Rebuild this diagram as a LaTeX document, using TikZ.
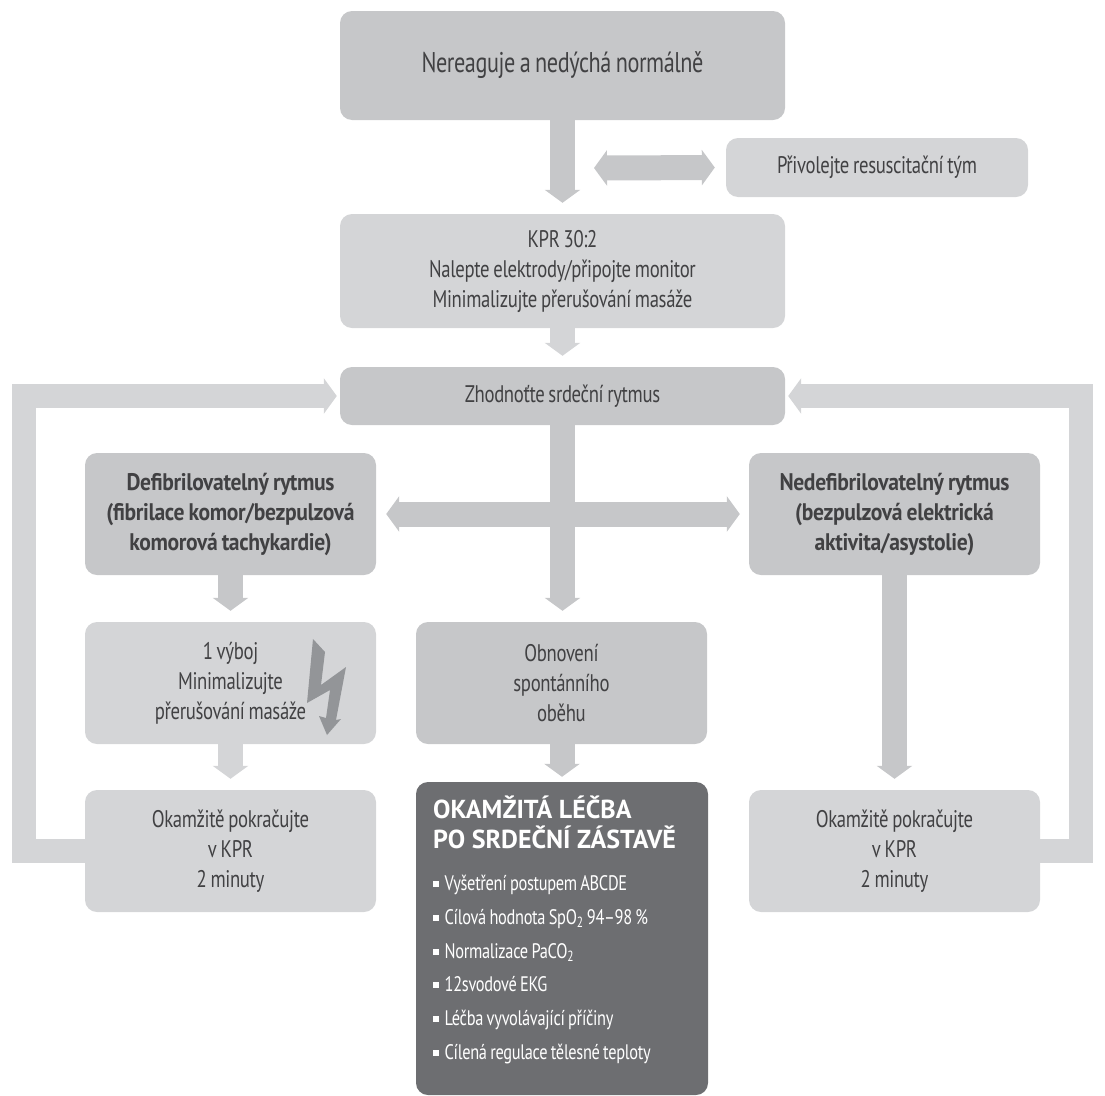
\documentclass[tikz,border=0pt]{standalone}
\usepackage{fontspec}
\setmainfont[FakeStretch=0.78,LetterSpace=-1.5,WordSpace=0.8]{PT Sans}
\newfontfamily\titlefont{PT Sans}
\newfontfamily\heavyfont[FakeStretch=0.9,LetterSpace=-1.5,WordSpace=0.8]{PT Sans}
\usetikzlibrary{arrows.meta}
\definecolor{boxdark}{HTML}{C6C7C9}
\definecolor{boxlight}{HTML}{D4D5D7}
\definecolor{panel}{HTML}{6D6E71}
\definecolor{ink}{HTML}{414143}
\definecolor{bolt}{HTML}{939598}
\tikzset{
  x=1pt,y=-1pt,
  flowbox/.style={rounded corners=12pt,inner sep=0pt,align=center,text=ink,font=\fontsize{24}{30}\selectfont},
  darkbox/.style={flowbox,fill=boxdark},
  lightbox/.style={flowbox,fill=boxlight},
  wide/.style={minimum width=291pt,minimum height=122pt},
  boldtext/.style={font=\heavyfont\bfseries\fontsize{24}{30}\selectfont},
  listitem/.style={anchor=base west,inner sep=0pt,text=white,font=\fontsize{21}{22}\selectfont},
  fatd/.style={line width=25pt,draw=boxdark,line join=miter,-{Triangle[width=35pt,length=13pt]},shorten >=11pt},
  fatl/.style={fatd,draw=boxlight},
  fatboth/.style={line width=25pt,draw=boxdark,{Triangle[width=35pt,length=13pt]}-{Triangle[width=35pt,length=13pt]}},
}
\newcommand{\sqb}{\rule[3.5pt]{5.5pt}{5.5pt}\hspace{6pt}}
\begin{document}
\begin{tikzpicture}
\useasboundingbox (0,0) rectangle (1105,1095);
% boxes
\node[darkbox,minimum width=445pt,minimum height=109pt,font=\fontsize{28.5}{30}\selectfont] (top) at (562.5,65.5) {\raisebox{-2pt}{Nereaguje a nedýchá normálně}};
\node[lightbox,minimum width=302pt,minimum height=59pt] (call) at (877,167.5) {\raisebox{-1.5pt}{Přivolejte resuscitační tým}};
\node[lightbox,minimum width=445pt,minimum height=114pt] (cpr) at (562.5,271) {KPR 30:2\\Nalepte elektrody/připojte monitor\\Minimalizujte přerušování masáže};
\node[darkbox,minimum width=445pt,minimum height=58pt] (rhythm) at (562.5,396) {Zhodnoťte srdeční rytmus};
\node[darkbox,wide,boldtext] (shock) at (230.5,514) {Defibrilovatelný rytmus\\(fibrilace komor/bezpulzová\\komorová tachykardie)};
\node[darkbox,wide,boldtext] (noshock) at (894.5,514) {Nedefibrilovatelný rytmus\\(bezpulzová elektrická\\aktivita/asystolie)};
\node[lightbox,wide] (one) at (230.5,683) {1 výboj\\Minimalizujte\\přerušování masáže};
\node[darkbox,wide] (rosc) at (561.5,683) {Obnovení\\spontánního\\oběhu};
\node[lightbox,wide] (contl) at (230.5,851) {Okamžitě pokračujte\\v KPR\\2 minuty};
\node[lightbox,wide] (contr) at (894.5,851) {Okamžitě pokračujte\\v KPR\\2 minuty};
\node[flowbox,fill=panel,minimum width=292pt,minimum height=313pt] (post) at (562,938.5) {};
% panel text
\node[anchor=base west,inner sep=0pt,text=white,align=left,font=\titlefont\bfseries\fontsize{26}{30}\selectfont] (ptitle) at (433,848) {OKAMŽITÁ LÉČBA\\PO SRDEČNÍ ZÁSTAVĚ};
\node[listitem] (l1) at (433,890) {\sqb Vyšetření postupem ABCDE};
\node[listitem] (l2) at (433,924) {\sqb Cílová hodnota SpO\textsubscript{2} 94–98 \%};
\node[listitem] (l3) at (433,958) {\sqb Normalizace PaCO\textsubscript{2}};
\node[listitem] (l4) at (433,991) {\sqb 12svodové EKG};
\node[listitem] (l5) at (433,1025) {\sqb Léčba vyvolávající příčiny};
\node[listitem] (l6) at (433,1059) {\sqb Cílená regulace tělesné teploty};
% lightning
\fill[bolt] (313,639) -- (325,652) -- (321,685) -- (346,667) -- (336,720) -- (341,719) -- (327,735) -- (319,716) -- (326,718) -- (330,690) -- (307,703) -- cycle;
% connectors
\coordinate (callfree) at (594,168);
\draw[fatd] (top.south) -- (cpr.north);
\draw[fatboth,shorten >=11pt] (callfree) -- (call.west);
\draw[fatl,shorten >=11pt] (cpr.south) -- (rhythm.north);
\draw[fatd] (rhythm.south) -- (rosc.north -| rhythm.south);
\draw[fatboth,shorten >=9pt,shorten <=10pt] (shock.east) -- (noshock.west);
\draw[fatd] (shock.south) -- (one.north);
\draw[fatl] (one.south) -- (contl.north);
\draw[fatd,shorten >=5pt] (rosc.south -| post.north) -- (post.north);
\draw[fatd] (noshock.south) -- (contr.north);
\coordinate (lb) at (24,851);
\coordinate (lt) at (24,396);
\coordinate (rb) at (1081,851);
\coordinate (rt) at (1081,396);
\draw[fatl,line width=24pt,shorten >=3pt] (contl.west) -- (lb) -- (lt) -- (rhythm.west);
\draw[fatl,line width=24pt,shorten >=3pt] (contr.east) -- (rb) -- (rt) -- (rhythm.east);
\end{tikzpicture}
\end{document}
